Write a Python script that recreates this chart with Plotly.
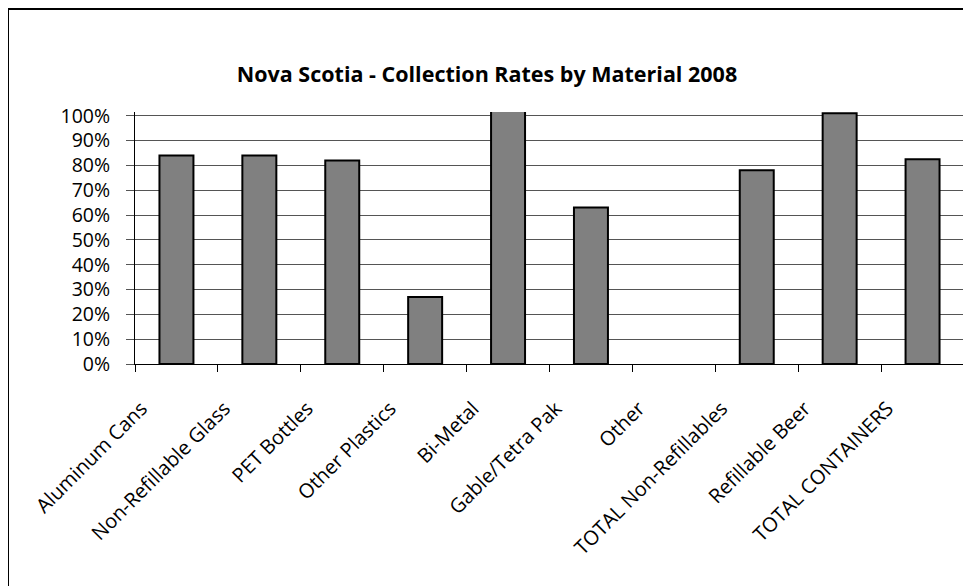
import plotly.graph_objects as go

categories = ["Aluminum Cans", "Non-Refillable Glass", "PET Bottles", "Other Plastics",
              "Bi-Metal", "Gable/Tetra Pak", "Other", "TOTAL Non-Refillables",
              "Refillable Beer", "TOTAL CONTAINERS"]
rates = [0.84, 0.84, 0.82, 0.27, 1.10, 0.63, None, 0.78, 1.01, 0.825]
y_ticks = [i / 10 for i in range(11)]
y_labels = [f"{i * 10}%" for i in range(11)]

# page has an 8px body margin, so figure is sized to fill the rest of the window
W, H = 963, 578
L, R, T, B = 127, 7, 104, 222
YMAX = 1.015

FONT = "Open Sans"

fig = go.Figure(go.Bar(
    x=categories, y=rates,
    marker=dict(color="#808080", line=dict(color="#000000", width=2)),
))

pw = W - L - R
ph = H - T - B


def px_x(x):
    return (x - L) / pw


def px_y(y):
    return (H - B - y) / ph


# outer chart border (top and left edges visible)
fig.add_shape(type="line", xref="paper", yref="paper",
              x0=px_x(0), x1=px_x(W + 5), y0=px_y(1), y1=px_y(1),
              line=dict(color="#000000", width=2))
fig.add_shape(type="line", xref="paper", yref="paper",
              x0=px_x(0), x1=px_x(0), y0=px_y(1), y1=px_y(H + 5),
              line=dict(color="#000000", width=2))
# plot-area right border
fig.add_shape(type="line", xref="paper", yref="y",
              x0=1, x1=1, y0=0, y1=1.0,
              line=dict(color="#808080", width=2))

fig.update_layout(
    width=W, height=H,
    margin=dict(l=L, r=R, t=T, b=B, autoexpand=False),
    paper_bgcolor="#ffffff", plot_bgcolor="#ffffff",
    showlegend=False,
    bargap=0.59,
    title=dict(text="<b>Nova Scotia - Collection Rates by Material 2008</b>",
               x=479 / W, xref="container", xanchor="center",
               y=1 - 66 / H, yanchor="middle",
               font=dict(family=FONT, size=21.5, color="#000000")),
    font=dict(family=FONT, color="#000000"),
)
fig.update_xaxes(
    type="category",
    tickangle=-45,
    tickfont=dict(family=FONT, size=20, color="#000000"),
    showline=True, linecolor="#000000", linewidth=1,
    ticks="outside", tickson="boundaries", ticklen=7, tickcolor="#000000",
    showgrid=False,
    ticklabelstandoff=24,
    ticklabelshift=-35,
)
fig.update_yaxes(
    range=[0, YMAX],
    tickvals=y_ticks, ticktext=y_labels,
    tickfont=dict(family=FONT, size=19.5, color="#000000"),
    showline=True, linecolor="#000000", linewidth=1,
    ticks="outside", ticklen=8, tickcolor="#555555",
    showgrid=True, gridcolor="#555555", gridwidth=1.2,
    zeroline=False,
    ticklabelstandoff=12,
)

fig.write_html("out.html")
